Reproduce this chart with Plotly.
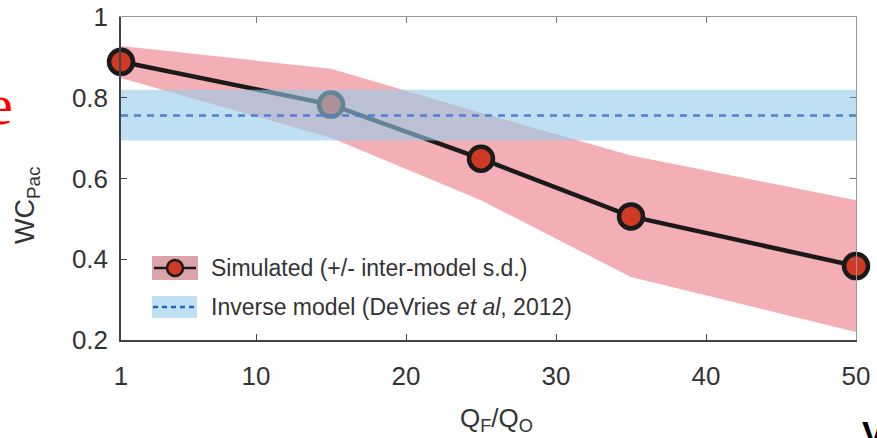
import plotly.graph_objects as go

# ---- data ----
ratio = [1, 15, 25, 35, 50]
wc_mean = [0.889, 0.783, 0.649, 0.506, 0.383]
wc_upper = [0.928, 0.872, 0.763, 0.657, 0.546]
wc_lower = [0.849, 0.701, 0.546, 0.356, 0.220]
inv_x = [1, 50]
inv_mean = [0.756, 0.756]
inv_upper = [0.820, 0.820]
inv_lower = [0.694, 0.694]
xticks = [1, 10, 20, 30, 40, 50]
yticks = [0.2, 0.4, 0.6, 0.8, 1.0]
ytick_text = ["0.2", "0.4", "0.6", "0.8", "1"]

FONT = "Liberation Sans, Arial, sans-serif"
PINK = "rgb(244,174,181)"
BLUE = "rgba(148,203,233,0.6)"
DASH = "rgb(84,126,206)"
RED = "rgb(208,58,36)"

fig = go.Figure()

# pink band
fig.add_trace(go.Scatter(x=ratio, y=wc_upper, mode="lines", line=dict(width=0),
                         hoverinfo="skip", showlegend=False))
fig.add_trace(go.Scatter(x=ratio, y=wc_lower, mode="lines", line=dict(width=0),
                         fill="tonexty", fillcolor=PINK, hoverinfo="skip", showlegend=False))
# simulated line
fig.add_trace(go.Scatter(x=ratio, y=wc_mean, mode="lines+markers",
                         line=dict(color="#1a1a1a", width=4.5),
                         marker=dict(size=24, color=RED, line=dict(color="#1a1a1a", width=4.5)),
                         cliponaxis=False, showlegend=False))
# blue band
fig.add_trace(go.Scatter(x=inv_x, y=inv_upper, mode="lines", line=dict(width=0),
                         hoverinfo="skip", showlegend=False))
fig.add_trace(go.Scatter(x=inv_x, y=inv_lower, mode="lines", line=dict(width=0),
                         fill="tonexty", fillcolor=BLUE, hoverinfo="skip", showlegend=False))
fig.add_trace(go.Scatter(x=inv_x, y=inv_mean, mode="lines",
                         line=dict(color=DASH, width=2.5, dash="7px,6px"),
                         showlegend=False))
# dummy trace for mirrored axes
fig.add_trace(go.Scatter(x=ratio, y=wc_mean, xaxis="x2", yaxis="y2", mode="markers",
                         marker=dict(opacity=0), hoverinfo="skip", showlegend=False))

L, R, T, B = 121, 21, 17, 98
W, H = 877, 438
pw, ph = W - L - R, H - T - B

def px(xp):
    return (xp - L) / pw

def py(yp):
    return (H - B - yp) / ph

axis_common = dict(ticks="inside", ticklen=6, tickwidth=1, showgrid=False, zeroline=False,
                   automargin=False)

fig.update_layout(
    width=W, height=H,
    margin=dict(l=L, r=R, t=T, b=B, autoexpand=False),
    plot_bgcolor="white", paper_bgcolor="white",
    font=dict(family=FONT, color="#333"),
    xaxis=dict(range=[1, 50], tickvals=xticks, showline=True, linecolor="#444", linewidth=1.5,
               tickcolor="#444", tickfont=dict(size=26, color="#333"), ticklabelstandoff=12,
               **axis_common),
    yaxis=dict(range=[0.2, 1.0], tickvals=yticks, ticktext=ytick_text, showline=True,
               linecolor="#444", linewidth=1.5, tickcolor="#444",
               tickfont=dict(size=26, color="#333"), ticklabelstandoff=6, **axis_common),
    xaxis2=dict(range=[1, 50], tickvals=xticks, overlaying="x", side="top", anchor="y2",
                showline=True, linecolor="#999", linewidth=1, tickcolor="#777",
                showticklabels=False, **axis_common),
    yaxis2=dict(range=[0.2, 1.0], tickvals=yticks, overlaying="y", side="right", anchor="x2",
                showline=True, linecolor="#999", linewidth=1, tickcolor="#777",
                showticklabels=False, **axis_common),
)

shapes = []
ann = []
# legend entry 1
shapes.append(dict(type="rect", xref="paper", yref="paper", x0=px(152), x1=px(198),
                   y0=py(280), y1=py(256), fillcolor="rgb(219,163,170)", line=dict(width=0)))
shapes.append(dict(type="line", xref="paper", yref="paper", x0=px(154), x1=px(196),
                   y0=py(268), y1=py(268), line=dict(color="#1a1a1a", width=2.5)))
shapes.append(dict(type="circle", xref="paper", yref="paper", xsizemode="pixel", ysizemode="pixel",
                   xanchor=px(175), yanchor=py(268), x0=-8, x1=8, y0=-8, y1=8,
                   fillcolor=RED, line=dict(color="#1a1a1a", width=2.5)))
# legend entry 2
shapes.append(dict(type="rect", xref="paper", yref="paper", x0=px(152), x1=px(197),
                   y0=py(318), y1=py(296), fillcolor="rgb(191,224,242)", line=dict(width=0)))
shapes.append(dict(type="line", xref="paper", yref="paper", x0=px(153), x1=px(197),
                   y0=py(307), y1=py(307), line=dict(color="rgb(40,100,180)", width=2.5, dash="5px,4px")))
ann.append(dict(text="Simulated (+/- inter-model s.d.)", xref="paper", yref="paper",
                x=px(209), y=py(268), xanchor="left", yanchor="middle", showarrow=False,
                font=dict(size=23, color="#333", family=FONT)))
ann.append(dict(text="Inverse model (DeVries <i>et al</i>, 2012)", xref="paper", yref="paper",
                x=px(209), y=py(307), xanchor="left", yanchor="middle", showarrow=False,
                font=dict(size=23, color="#333", family=FONT)))
# axis titles
ann.append(dict(text="WC<sub>Pac</sub>", xref="paper", yref="paper", x=px(27), y=py(205),
                xanchor="center", yanchor="middle", textangle=-90, showarrow=False,
                font=dict(size=27, color="#333", family=FONT)))
ann.append(dict(text="Q<sub>F</sub>/Q<sub>O</sub>", xref="paper", yref="paper", x=px(496), y=py(401),
                xanchor="center", yanchor="top", showarrow=False,
                font=dict(size=26, color="#333", family=FONT)))
# cropped fragments at the edges
ann.append(dict(text="e", xref="paper", yref="paper", x=px(15), y=py(104),
                xanchor="right", yanchor="middle", showarrow=False,
                font=dict(size=58, color="#ff0000", family="Liberation Serif, Times New Roman, serif")))
ann.append(dict(text="<b>V</b>", xref="paper", yref="paper", x=px(860), y=py(412),
                xanchor="left", yanchor="top", showarrow=False,
                font=dict(size=34, color="#000", family=FONT)))

fig.update_layout(shapes=shapes, annotations=ann)
fig.write_html("out.html", config={"displayModeBar": False},
               post_script="document.body.style.margin='0px';document.body.style.overflow='hidden';")
